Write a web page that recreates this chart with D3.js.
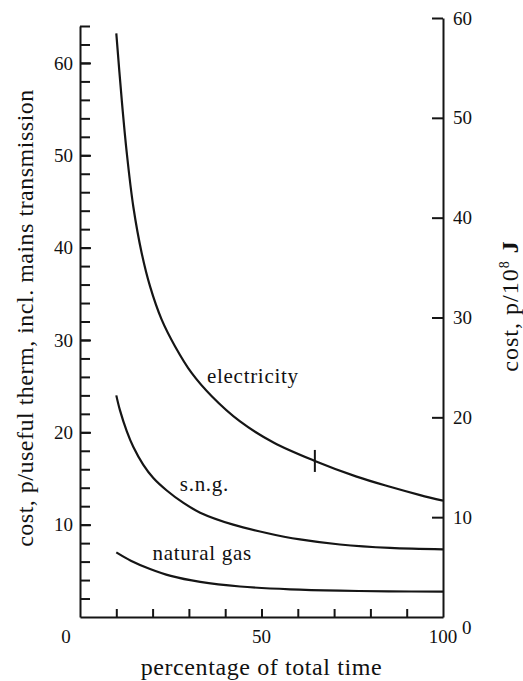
<!DOCTYPE html>
<html>
<head>
<meta charset="utf-8">
<script src="https://cdn.jsdelivr.net/npm/d3@7"></script>
<style>
  body { margin: 0; background: #fff; }
  svg { display: block; }
  text { font-family: "Liberation Serif", "DejaVu Serif", serif; fill: #111; }
</style>
</head>
<body>
<div id="chart"></div>
<script>
// Data: [percentage of total time, cost p/useful therm]
const electricity = [[10, 63.2], [11.5, 56.0], [12.9, 50.2], [14.7, 44.4], [17, 39.4], [19.3, 35.8],
  [22.5, 32.2], [26.2, 29.3], [30.8, 26.4], [36.3, 23.9], [44, 21.2], [53.3, 18.9], [64.7, 16.9],
  [76.2, 15.2], [85.4, 14.1], [93.7, 13.2], [100, 12.6]];
const sng = [[10, 24.0], [11, 22.4], [12.9, 20.1], [14.7, 18.4], [17.4, 16.5], [20.2, 15.05],
  [23.9, 13.7], [28.5, 12.35], [33.1, 11.3], [42.2, 10.0], [51.4, 9.1], [60.6, 8.4], [71.6, 7.85],
  [85.4, 7.48], [100, 7.33]];
const naturalGas = [[10, 7.0], [14, 6.1], [19.3, 5.2], [25, 4.45], [33.1, 3.8], [44.1, 3.3],
  [57.9, 3.0], [71.6, 2.85], [85, 2.78], [100, 2.74]];
const marker = [64.7, 16.9];   // short bar across electricity curve

const curveLabels = [
  { text: "electricity", at: [35.0, 25.3] },
  { text: "s.n.g.", at: [27.5, 13.6] },
  { text: "natural gas", at: [20.0, 6.2] }
];

const xTicks = [10, 20, 30, 40, 50, 60, 70, 80, 90];
const xLabels = [0, 50, 100];
const leftMajor = [10, 20, 30, 40, 50, 60];
const leftMinor = d3.range(2, 65, 2);
const rightTicks = [0, 10, 20, 30, 40, 50, 60];

const W = 523, H = 681;
const svg = d3.select("#chart").append("svg").attr("width", W).attr("height", H);

// scales (the two cost axes are drawn independently)
const x = d3.scaleLinear().domain([0, 100]).range([80, 443]);
const yL = d3.scaleLinear().domain([0, 64]).range([617, 26]);
const yR = d3.scaleLinear().domain([0, 60]).range([617, 18]);

const ink = "#151515";

// left axis: minor ticks every 2, labels at 10s
svg.append("g")
  .attr("transform", `translate(${x(0)},0)`)
  .call(d3.axisLeft(yL).tickValues(leftMinor).tickFormat("").tickSizeInner(-10).tickSizeOuter(0))
  .call(g => g.selectAll("path, line").attr("stroke", ink).attr("stroke-width", 2));
svg.append("g")
  .attr("transform", `translate(${x(0)},0)`)
  .call(d3.axisLeft(yL).tickValues(leftMajor).tickSizeInner(-11).tickSizeOuter(0).tickPadding(7))
  .call(g => g.select(".domain").remove())
  .call(g => g.selectAll("line").attr("stroke", ink).attr("stroke-width", 2))
  .call(g => g.selectAll("text").attr("font-size", 19).attr("font-family", null).attr("fill", ink));

// right axis
const rAxis = svg.append("g")
  .attr("transform", `translate(${x(100)},0)`)
  .call(d3.axisRight(yR).tickValues(rightTicks).tickSizeInner(-11).tickSizeOuter(0).tickPadding(10))
  .call(g => g.selectAll("path, line").attr("stroke", ink).attr("stroke-width", 2))
  .call(g => g.selectAll("text").attr("font-size", 19).attr("font-family", null).attr("fill", ink));
rAxis.selectAll(".tick").filter(d => d === 0)
  .call(t => t.select("line").remove())
  .select("text").attr("x", 19).attr("dy", "0.85em");

// bottom axis
svg.append("g")
  .attr("transform", `translate(0,${yL(0)})`)
  .call(d3.axisBottom(x).tickValues(xTicks).tickFormat("").tickSizeInner(-8).tickSizeOuter(0))
  .call(g => g.selectAll("path, line").attr("stroke", ink).attr("stroke-width", 2));

svg.append("g").selectAll("text")
  .data(xLabels).join("text")
  .attr("x", d => d === 0 ? x(d) - 14 : x(d))
  .attr("y", yL(0) + 26)
  .attr("text-anchor", "middle")
  .attr("font-size", 19)
  .text(d => d);

// curves
const line = d3.line()
  .x(d => x(d[0]))
  .y(d => yL(d[1]))
  .curve(d3.curveCatmullRom.alpha(0.5));

svg.append("g").selectAll("path")
  .data([electricity, sng, naturalGas]).join("path")
  .attr("d", line)
  .attr("fill", "none")
  .attr("stroke", ink)
  .attr("stroke-width", 2.2);

svg.append("line")
  .attr("x1", x(marker[0])).attr("x2", x(marker[0]))
  .attr("y1", yL(marker[1]) - 11).attr("y2", yL(marker[1]) + 11)
  .attr("stroke", ink).attr("stroke-width", 2);

svg.append("g").selectAll("text")
  .data(curveLabels).join("text")
  .attr("x", d => x(d.at[0]))
  .attr("y", d => yL(d.at[1]))
  .attr("font-size", 21)
  .attr("letter-spacing", 0.7)
  .text(d => d.text);

// axis titles
svg.append("text")
  .attr("transform", `translate(33,318) rotate(-90)`)
  .attr("text-anchor", "middle")
  .attr("font-size", 24)
  .attr("letter-spacing", 0.5)
  .text("cost, p/useful therm, incl. mains transmission");

const rTitle = svg.append("text")
  .attr("transform", `translate(518,306) rotate(-90)`)
  .attr("text-anchor", "middle")
  .attr("font-size", 24)
  .attr("letter-spacing", 1);
rTitle.append("tspan").text("cost, p/10");
rTitle.append("tspan").attr("font-size", 14).attr("dy", -9).text("8");
rTitle.append("tspan").attr("dy", 9).attr("font-weight", "bold").text(" J");

svg.append("text")
  .attr("x", x(50))
  .attr("y", 675)
  .attr("text-anchor", "middle")
  .attr("font-size", 24)
  .attr("letter-spacing", 0.6)
  .text("percentage of total time");
</script>
</body>
</html>
